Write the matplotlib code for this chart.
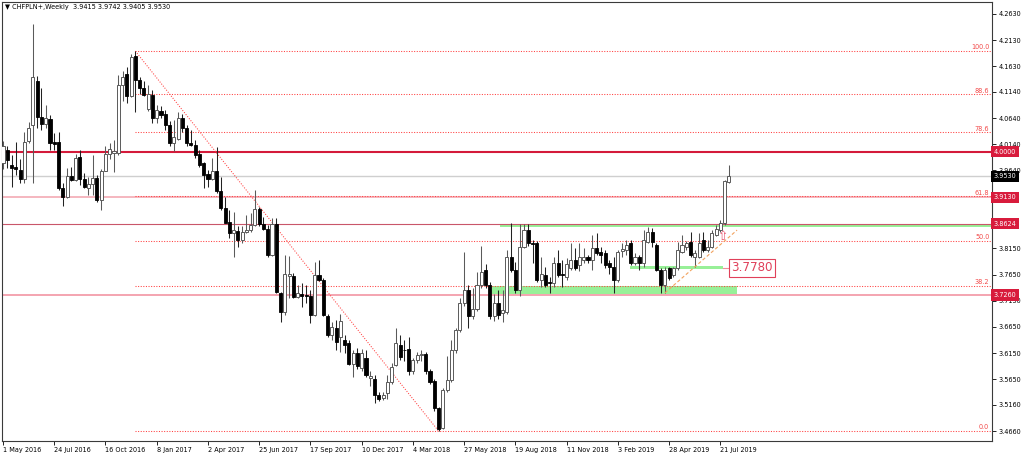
import numpy as np
import matplotlib
matplotlib.use("Agg")
from matplotlib import pyplot as plt

# weekly CHFPLN candles, bar 0 = week of 1 May 2016
opens = [3.978, 4.003, 3.974, 3.971, 3.965, 3.948, 4.020, 4.051, 4.135, 4.067,
         4.052, 4.062, 4.019, 4.018, 3.930, 3.913, 3.954, 3.946, 3.990, 3.948,
         3.931, 3.939, 3.950, 3.907, 3.963, 3.995, 3.997, 3.997, 4.127, 4.148,
         4.107, 4.183, 4.137, 4.122, 4.082, 4.108, 4.064, 4.078, 4.071, 4.050,
         4.016, 4.025, 4.064, 4.045, 4.017, 4.013, 3.995, 3.978, 3.958, 3.947,
         3.962, 3.924, 3.892, 3.866, 3.844, 3.849, 3.831, 3.847, 3.850, 3.860,
         3.890, 3.862, 3.852, 3.803, 3.862, 3.730, 3.694, 3.762, 3.763, 3.723,
         3.728, 3.726, 3.725, 3.688, 3.764, 3.755, 3.686, 3.650, 3.663, 3.646,
         3.640, 3.634, 3.595, 3.615, 3.586, 3.605, 3.568, 3.565, 3.535, 3.530,
         3.538, 3.560, 3.592, 3.631, 3.621, 3.622, 3.580, 3.601, 3.611, 3.614,
         3.580, 3.562, 3.510, 3.472, 3.545, 3.563, 3.621, 3.659, 3.710, 3.735,
         3.685, 3.700, 3.745, 3.774, 3.745, 3.685, 3.710, 3.691, 3.694, 3.799,
         3.774, 3.736, 3.818, 3.850, 3.825, 3.825, 3.755, 3.764, 3.751, 3.748,
         3.787, 3.767, 3.761, 3.777, 3.793, 3.783, 3.793, 3.799, 3.793, 3.815,
         3.809, 3.806, 3.787, 3.780, 3.755, 3.810, 3.812, 3.825, 3.787, 3.799,
         3.787, 3.828, 3.847, 3.822, 3.774, 3.745, 3.777, 3.764, 3.777, 3.809,
         3.818, 3.828, 3.799, 3.799, 3.831, 3.812, 3.818, 3.841, 3.850, 3.863,
         3.9415]
highs = [4.020, 4.010, 3.994, 4.018, 3.986, 4.038, 4.056, 4.244, 4.145, 4.121,
         4.090, 4.070, 4.035, 4.038, 3.940, 3.968, 3.971, 3.995, 4.003, 3.959,
         3.952, 3.994, 3.955, 3.967, 4.010, 4.016, 4.022, 4.146, 4.154, 4.162,
         4.186, 4.192, 4.143, 4.135, 4.128, 4.118, 4.089, 4.088, 4.080, 4.058,
         4.060, 4.076, 4.071, 4.050, 4.041, 4.022, 4.003, 3.981, 3.965, 3.987,
         4.009, 3.952, 3.914, 3.888, 3.885, 3.857, 3.857, 3.879, 3.882, 3.927,
         3.895, 3.876, 3.860, 3.873, 3.873, 3.732, 3.802, 3.800, 3.768, 3.745,
         3.748, 3.745, 3.735, 3.790, 3.793, 3.758, 3.690, 3.675, 3.678, 3.690,
         3.650, 3.640, 3.621, 3.625, 3.622, 3.620, 3.580, 3.573, 3.540, 3.540,
         3.573, 3.596, 3.662, 3.649, 3.640, 3.645, 3.605, 3.618, 3.620, 3.617,
         3.585, 3.565, 3.512, 3.548, 3.610, 3.640, 3.662, 3.720, 3.809, 3.745,
         3.740, 3.770, 3.820, 3.785, 3.750, 3.728, 3.735, 3.735, 3.812, 3.864,
         3.790, 3.862, 3.862, 3.862, 3.832, 3.830, 3.799, 3.780, 3.760, 3.799,
         3.812, 3.793, 3.796, 3.825, 3.815, 3.825, 3.815, 3.803, 3.841, 3.844,
         3.818, 3.812, 3.793, 3.799, 3.812, 3.825, 3.831, 3.831, 3.806, 3.802,
         3.850, 3.856, 3.854, 3.825, 3.777, 3.780, 3.780, 3.780, 3.828, 3.841,
         3.830, 3.847, 3.812, 3.844, 3.847, 3.831, 3.850, 3.860, 3.869, 3.946,
         3.9742]
lows = [3.967, 3.968, 3.933, 3.955, 3.940, 3.940, 4.016, 3.940, 4.045, 4.041,
        4.046, 4.003, 4.003, 3.927, 3.897, 3.911, 3.943, 3.943, 3.936, 3.930,
        3.917, 3.917, 3.904, 3.888, 3.962, 3.986, 3.961, 3.994, 4.096, 4.092,
        4.105, 4.076, 4.111, 4.107, 4.078, 4.054, 4.054, 4.065, 4.041, 4.011,
        4.001, 4.022, 4.037, 4.010, 4.010, 3.987, 3.971, 3.930, 3.933, 3.946,
        3.920, 3.888, 3.863, 3.834, 3.799, 3.818, 3.825, 3.844, 3.847, 3.857,
        3.858, 3.850, 3.799, 3.801, 3.729, 3.675, 3.688, 3.720, 3.720, 3.720,
        3.704, 3.710, 3.672, 3.686, 3.752, 3.685, 3.645, 3.640, 3.620, 3.618,
        3.615, 3.592, 3.570, 3.585, 3.580, 3.570, 3.552, 3.519, 3.524, 3.525,
        3.528, 3.556, 3.590, 3.602, 3.600, 3.574, 3.575, 3.596, 3.600, 3.575,
        3.555, 3.505, 3.466, 3.470, 3.540, 3.560, 3.615, 3.655, 3.705, 3.662,
        3.680, 3.695, 3.740, 3.740, 3.680, 3.677, 3.680, 3.675, 3.690, 3.770,
        3.730, 3.725, 3.815, 3.820, 3.787, 3.750, 3.742, 3.742, 3.730, 3.742,
        3.761, 3.742, 3.755, 3.774, 3.774, 3.771, 3.787, 3.787, 3.774, 3.802,
        3.787, 3.777, 3.767, 3.729, 3.751, 3.799, 3.802, 3.783, 3.783, 3.774,
        3.780, 3.825, 3.818, 3.771, 3.729, 3.729, 3.755, 3.761, 3.774, 3.806,
        3.812, 3.799, 3.780, 3.796, 3.809, 3.809, 3.815, 3.838, 3.847, 3.860,
        3.9405]
closes = [4.010, 3.984, 3.969, 3.966, 3.948, 4.019, 4.045, 4.143, 4.067, 4.052,
          4.064, 4.016, 4.015, 3.930, 3.914, 3.954, 3.945, 3.988, 3.948, 3.933,
          3.939, 3.950, 3.907, 3.963, 3.995, 4.005, 4.001, 4.127, 4.143, 4.107,
          4.181, 4.137, 4.122, 4.109, 4.110, 4.065, 4.080, 4.070, 4.050, 4.016,
          4.027, 4.065, 4.045, 4.016, 4.013, 3.994, 3.974, 3.955, 3.947, 3.962,
          3.924, 3.892, 3.864, 3.845, 3.850, 3.831, 3.847, 3.851, 3.860, 3.890,
          3.862, 3.852, 3.803, 3.862, 3.732, 3.694, 3.766, 3.766, 3.723, 3.729,
          3.725, 3.724, 3.688, 3.764, 3.755, 3.688, 3.650, 3.665, 3.637, 3.677,
          3.631, 3.595, 3.615, 3.590, 3.615, 3.573, 3.571, 3.535, 3.527, 3.535,
          3.560, 3.589, 3.634, 3.607, 3.620, 3.580, 3.602, 3.611, 3.614, 3.580,
          3.560, 3.510, 3.470, 3.545, 3.563, 3.621, 3.659, 3.710, 3.735, 3.685,
          3.700, 3.745, 3.770, 3.745, 3.685, 3.710, 3.688, 3.697, 3.799, 3.774,
          3.736, 3.818, 3.850, 3.825, 3.823, 3.755, 3.767, 3.745, 3.748, 3.787,
          3.764, 3.764, 3.785, 3.793, 3.777, 3.799, 3.799, 3.792, 3.815, 3.806,
          3.802, 3.783, 3.780, 3.755, 3.809, 3.813, 3.822, 3.787, 3.798, 3.787,
          3.831, 3.847, 3.828, 3.774, 3.745, 3.774, 3.758, 3.777, 3.812, 3.822,
          3.825, 3.802, 3.806, 3.825, 3.812, 3.818, 3.844, 3.853, 3.863, 3.943,
          3.9530]

date_labels = ["1 May 2016", "24 Jul 2016", "16 Oct 2016", "8 Jan 2017", "2 Apr 2017",
               "25 Jun 2017", "17 Sep 2017", "10 Dec 2017", "4 Mar 2018", "27 May 2018",
               "19 Aug 2018", "11 Nov 2018", "3 Feb 2019", "28 Apr 2019", "21 Jul 2019"]
date_label_bars = [0, 12, 24, 36, 48, 60, 72, 84, 96, 108, 120, 132, 144, 156, 168]

# scale values (3.9150 and 3.8650 sit under the price boxes, so left out)
price_ticks = [4.2630, 4.2130, 4.1630, 4.1140, 4.0640, 4.0140, 3.9640,
               3.8150, 3.7650, 3.7150, 3.6650, 3.6150, 3.5650, 3.5160, 3.4660]

# fibonacci retracement anchors
fib_high_bar, fib_high = 31, 4.192
fib_low_bar, fib_low = 102, 3.466
fib_levels = [0.0, 38.2, 50.0, 61.8, 78.6, 88.6, 100.0]

# horizontal levels drawn on the chart
level_prices = [4.0000, 3.9130, 3.8624, 3.7260]
level_colors = ["#d41a3a", "#f3a3ad", "#c9566a", "#f18c9b"]
level_widths = [1.5, 1.1, 0.8, 1.1]
last_price = 3.9530

# green zones: start bar, end bar, low, high
zone_start = [116.5, 114.5, 146.8]
zone_end = [232.0, 171.9, 168.6]
zone_low = [3.8555, 3.7285, 3.7765]
zone_high = [3.8624, 3.7440, 3.7810]

trend_bars = [155.0, 171.9]
trend_prices = [3.730, 3.850]

marked_level = 3.7780

FS = 4.7
RED = "#d81b3c"

fig = plt.figure(figsize=(10.24, 4.55), dpi=100)
ax = fig.add_axes([2 / 1024, 14 / 455, 990 / 1024, 439 / 455])
xmax = 231.6
ax.set_xlim(-0.234, xmax)
ax.set_ylim(3.4470, 4.2859)

o = np.array(opens)
h = np.array(highs)
l = np.array(lows)
c = np.array(closes)
x = np.arange(len(o))
up = c >= o
body_lo = np.minimum(o, c)
body_h = np.maximum(np.abs(c - o), 0.0012)

# zones and levels behind the candles
for s, e, lo, hi in zip(zone_start, zone_end, zone_low, zone_high):
    ax.fill_between([s, e], lo, hi, color="#98f098", lw=0, zorder=1)

ax.axhline(last_price, color="#cfcfcf", lw=1.0, zorder=1.5)
for p, col, w in zip(level_prices, level_colors, level_widths):
    ax.axhline(p, color=col, lw=w, zorder=1.6)

fib_style = dict(color="#ff4040", lw=0.75, ls=(0, (1, 1.5)), zorder=2)
ax.plot([fib_high_bar, fib_low_bar], [fib_high, fib_low], **fib_style)
for lvl in fib_levels:
    p = fib_low + lvl / 100 * (fib_high - fib_low)
    ax.plot([fib_high_bar, xmax], [p, p], **fib_style)
    ax.annotate(f"{lvl:.1f}", xy=(xmax, p), xytext=(-2, 0.5), textcoords="offset points",
                ha="right", va="bottom", fontsize=FS, color="#f24a4a")

# candles
ax.vlines(x[up], l[up], h[up], color="#5a5a5a", lw=0.75, zorder=3)
ax.vlines(x[~up], l[~up], h[~up], color="#222222", lw=0.75, zorder=3)
ax.bar(x[up], body_h[up], bottom=body_lo[up], width=0.72, color="white",
       edgecolor="#5a5a5a", lw=0.7, zorder=4)
ax.bar(x[~up], body_h[~up], bottom=body_lo[~up], width=0.72, color="black",
       edgecolor="black", lw=0.6, zorder=4)

ax.plot(trend_bars, trend_prices, color="#f2a25e", lw=0.8, ls=(0, (3, 2)), zorder=5)
ax.text(168.7, 3.837, "\u21e7", color="#e8506a", fontsize=9, ha="center", va="center", zorder=6)

ax.plot([168.6, 170.2], [marked_level, marked_level], color="#f08c9b", lw=0.8, zorder=5)
ax.text(170.6, 3.7776, f"{marked_level:.4f}", fontsize=8.6, color="#e0405a",
        ha="left", va="center", zorder=6,
        bbox=dict(boxstyle="square,pad=0.18", fc="white", ec="#e0405a", lw=0.8))

# axes styling
ax.set_xticks(date_label_bars)
ax.set_xticklabels(date_labels, ha="left")
ax.set_yticks(price_ticks)
ax.set_yticklabels([f"{v:.4f}" for v in price_ticks])
ax.yaxis.tick_right()
ax.tick_params(axis="x", length=3, width=0.6, pad=1.5, labelsize=FS)
ax.tick_params(axis="y", length=3, width=0.6, pad=1.5, labelsize=FS)
for sp in ax.spines.values():
    sp.set_color("#3a3a3a")
    sp.set_linewidth(0.8)

# price boxes on the right scale
tr = ax.get_yaxis_transform()
boxes = [(4.0000, RED), (last_price, "black"), (3.9130, RED), (3.8624, RED), (3.7260, RED)]
for p, col in boxes:
    ax.text(1.002, p, f"{p:.4f}", transform=tr, ha="left", va="center", fontsize=FS,
            color="white", clip_on=False, zorder=10,
            bbox=dict(boxstyle="square,pad=0.4", fc=col, ec="none"))

ax.text(0.003, 0.989, "\u25bc CHFPLN+,Weekly  3.9415 3.9742 3.9405 3.9530",
        transform=ax.transAxes, ha="left", va="center", fontsize=FS, color="black")

fig.savefig("out.png", dpi=100)
